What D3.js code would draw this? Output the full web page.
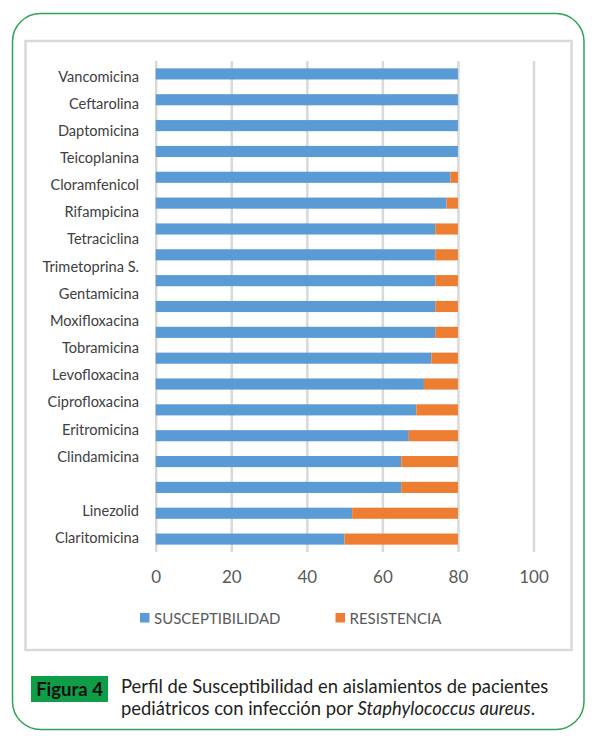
<!DOCTYPE html>
<html>
<head>
<meta charset="utf-8">
<script src="https://cdn.jsdelivr.net/npm/d3@7"></script>
<style>
  html, body { margin: 0; padding: 0; background: #ffffff; }
  svg { display: block; }
</style>
</head>
<body>
<svg id="chart" width="597" height="736"></svg>
<script>
// ---- data ----
// The drug names are a separate column of labels (17 names and one blank slot);
// the chart itself has 19 bars, so names and bars do not line up exactly.
const rowLabels = [
  "Vancomicina", "Ceftarolina", "Daptomicina", "Teicoplanina", "Cloramfenicol",
  "Rifampicina", "Tetraciclina", "Trimetoprina S.", "Gentamicina", "Moxifloxacina",
  "Tobramicina", "Levofloxacina", "Ciprofloxacina", "Eritromicina", "Clindamicina",
  "", "Linezolid", "Claritomicina"
];
const barIds = ["b1","b2","b3","b4","b5","b6","b7","b8","b9","b10",
                "b11","b12","b13","b14","b15","b16","b17","b18","b19"];
const susceptibilidad = [80, 80, 80, 80, 78, 77, 74, 74, 74, 74, 74, 73, 71, 69, 67, 65, 65, 52, 50];
const resistencia     = [0, 0, 0, 0, 2, 3, 6, 6, 6, 6, 6, 7, 9, 11, 13, 15, 15, 28, 30];
const xTicks = [0, 20, 40, 60, 80, 100];
const seriesNames = ["SUSCEPTIBILIDAD", "RESISTENCIA"];
const seriesColors = ["#5b9bd5", "#ed7d31"];

const svg = d3.select("#chart");
const FONT = "Lato, 'Open Sans', sans-serif";

// outer rounded green border
svg.append("rect")
  .attr("x", 12.5).attr("y", 13.5).attr("width", 571.5).attr("height", 716)
  .attr("rx", 28).attr("ry", 28)
  .attr("fill", "none").attr("stroke", "#2fa457").attr("stroke-width", 1.5);

// inner gray chart frame
svg.append("rect")
  .attr("x", 25.5).attr("y", 41).attr("width", 546).attr("height", 609)
  .attr("fill", "#ffffff").attr("stroke", "#d9d9d9").attr("stroke-width", 2.5);

const plotTop = 61, plotBottom = 552;
const x = d3.scaleLinear().domain([0, 100]).range([155.7, 533.5]);
const y = d3.scaleBand().domain(barIds).range([plotTop, plotBottom]).paddingInner(0.57).paddingOuter(0.285);

// gridlines + tick labels
const xAxis = d3.axisBottom(x).tickValues(xTicks).tickSizeInner(-(plotBottom - plotTop)).tickSizeOuter(0).tickPadding(19);
const gAxis = svg.append("g").attr("transform", `translate(0,${plotBottom})`).call(xAxis);
gAxis.select(".domain").remove();
gAxis.selectAll(".tick line").attr("stroke", "#d9d9d9").attr("stroke-width", 2.5);
gAxis.selectAll(".tick text")
  .attr("fill", "#595959").attr("font-family", FONT).attr("font-size", 17);

// stacked bars
const rows = barIds.map((id, i) => ({ id, s: susceptibilidad[i], r: resistencia[i] }));
const stack = d3.stack().keys(["s", "r"]);
const layers = stack(rows);
svg.append("g").selectAll("g").data(layers).join("g")
  .attr("fill", (d, i) => seriesColors[i])
  .selectAll("rect").data(d => d).join("rect")
  .attr("x", d => x(d[0]))
  .attr("width", d => Math.max(0, x(d[1]) - x(d[0])))
  .attr("y", d => y(d.data.id))
  .attr("height", y.bandwidth());

// drug-name labels (separate column)
const yl = d3.scalePoint().domain(d3.range(rowLabels.length)).range([76.5, 538]);
svg.append("g").selectAll("text").data(rowLabels).join("text")
  .attr("x", 139)
  .attr("y", (d, i) => yl(i))
  .attr("dy", "0.35em")
  .attr("text-anchor", "end")
  .attr("font-family", FONT).attr("font-size", 14.6)
  .attr("fill", "#404040")
  .text(d => d);

// legend
const legendX = [140, 335.5];
const lg = svg.append("g").selectAll("g").data(seriesNames).join("g")
  .attr("transform", (d, i) => `translate(${legendX[i]},613)`);
lg.append("rect").attr("width", 9.5).attr("height", 9.5).attr("fill", (d, i) => seriesColors[i]);
lg.append("text").attr("x", 14).attr("y", 10.5)
  .attr("font-family", FONT).attr("font-size", 15).attr("fill", "#595959")
  .text(d => d);

// caption
svg.append("rect").attr("x", 31).attr("y", 676).attr("width", 77).attr("height", 26).attr("fill", "#0f9d48");
svg.append("text").attr("x", 69.5).attr("y", 695.5).attr("text-anchor", "middle")
  .attr("font-family", FONT).attr("font-weight", "bold").attr("font-size", 18.5).attr("fill", "#111111")
  .text("Figura 4");
const cap = svg.append("text").attr("font-family", FONT).attr("font-size", 18.4).attr("fill", "#231f20");
cap.append("tspan").attr("x", 121).attr("y", 692.5).text("Perfil de Susceptibilidad en aislamientos de pacientes");
cap.append("tspan").attr("x", 121).attr("y", 714.5).text("pediátricos con infección por ");
cap.append("tspan").attr("font-style", "italic").text("Staphylococcus aureus");
cap.append("tspan").text(".");
</script>
</body>
</html>
